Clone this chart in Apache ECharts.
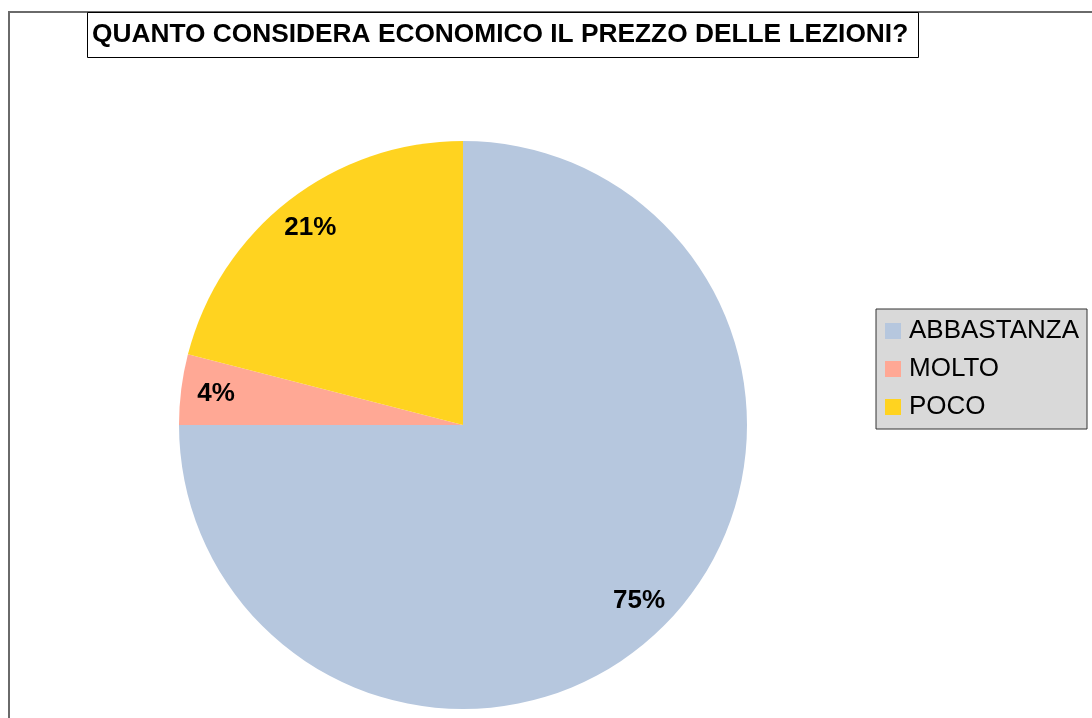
<!DOCTYPE html>
<html>
<head>
<meta charset="utf-8">
<script src="https://cdn.jsdelivr.net/npm/echarts@6/dist/echarts.min.js"></script>
<style>
  html, body { margin: 0; padding: 0; background: #fff; }
  #chart { width: 1092px; height: 718px; }
</style>
</head>
<body>
<div id="chart"></div>
<script>
// risposte e percentuali
var categories = ["ABBASTANZA", "MOLTO", "POCO"];
var values = [75, 4, 21];
var colors = ["#b6c7de", "#ffa895", "#ffd320"];

var pieData = categories.map(function (name, i) {
  return { name: name, value: values[i], itemStyle: { color: colors[i] } };
});

var myChart = echarts.init(document.getElementById("chart"));
var option = {
  animation: false,
  backgroundColor: "#fff",
  graphic: [
    {
      type: "rect",
      z: -10,
      shape: { x: 9, y: 12, width: 1200, height: 800 },
      style: { fill: "none", stroke: "#6a6a6a", lineWidth: 2 }
    }
  ],
  title: {
    text: "QUANTO CONSIDERA ECONOMICO IL PREZZO DELLE LEZIONI?",
    left: 87,
    top: 12,
    padding: [8, 11, 8, 5],
    borderColor: "#000",
    borderWidth: 1,
    backgroundColor: "#fff",
    textStyle: {
      fontFamily: "Liberation Sans, Arial, sans-serif",
      fontSize: 26.3,
      fontWeight: "bold",
      color: "#000",
      lineHeight: 30
    }
  },
  legend: {
    orient: "vertical",
    left: 876,
    top: 309,
    padding: [7, 8, 7, 9],
    backgroundColor: "#d9d9d9",
    borderColor: "#333",
    borderWidth: 1,
    borderRadius: 0,
    icon: "rect",
    itemWidth: 16,
    itemHeight: 16,
    itemGap: 8,
    selectedMode: false,
    data: categories,
    textStyle: {
      fontFamily: "Liberation Sans, Arial, sans-serif",
      fontSize: 26,
      color: "#000",
      lineHeight: 30,
      padding: [0, 0, 0, 3]
    }
  },
  series: [
    {
      type: "pie",
      center: [463, 425],
      radius: [0, 284],
      startAngle: 90,
      clockwise: true,
      silent: true,
      label: { show: false },
      labelLine: { show: false },
      itemStyle: { borderWidth: 0 },
      data: pieData
    },
    {
      // only carries the percent labels, further out than "inside" would put them
      type: "pie",
      center: [463, 425],
      radius: [208, 284],
      startAngle: 90,
      clockwise: true,
      silent: true,
      itemStyle: { color: "rgba(0,0,0,0)", borderWidth: 0 },
      labelLine: { show: false },
      label: {
        show: true,
        position: "inside",
        formatter: function (p) { return Math.round(p.percent) + "%"; },
        fontFamily: "Liberation Sans, Arial, sans-serif",
        fontSize: 26,
        fontWeight: "bold",
        color: "#000"
      },
      data: categories.map(function (name, i) {
        return { name: name, value: values[i] };
      })
    }
  ]
};
myChart.setOption(option);
window.addEventListener("resize", function () {
  myChart.resize();
});
</script>
</body>
</html>
